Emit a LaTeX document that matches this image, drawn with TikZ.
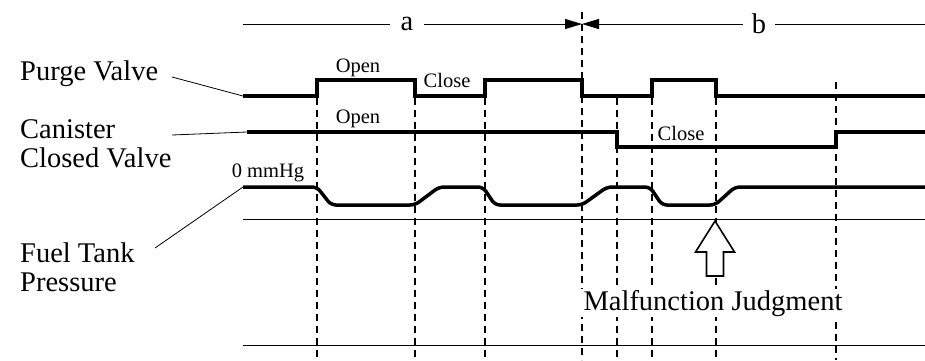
\documentclass[tikz,border=0pt]{standalone}
\usepackage{fontspec}
\setmainfont{Liberation Serif}
\usetikzlibrary{arrows.meta, positioning}

\begin{document}
\begin{tikzpicture}[x=1pt, y=-1pt,
    every node/.style={inner sep=0pt},
    big/.style={font=\fontsize{28.5}{29}\selectfont},
    small/.style={font=\fontsize{20.5}{22}\selectfont},
    sig/.style={line width=3.5pt},
    rule/.style={line width=1pt},
    tick/.style={line width=1.2pt, dash pattern=on 7pt off 5pt},
    dimarr/.style={line width=1pt, -{Triangle[length=17pt, width=10pt]}},
    leader/.style={line width=0.8pt},
    blockarr/.style={line width=1.6pt, fill=white, line join=miter}
]
\useasboundingbox (0,0) rectangle (925,360);

% time marks
\foreach \t/\top in {317/98, 415/98, 485/98, 582/12, 617/98, 652/98, 716/98, 836/82}
    \draw[tick] (\t,\top) -- (\t,360);

% periods a and b
\coordinate (aL)  at (243,24);
\coordinate (mid) at (582,24);
\coordinate (bR)  at (925,24);
\node[big, inner xsep=10pt, inner ysep=2pt] (a) at (407,24) {a};
\node[big, inner xsep=9pt, inner ysep=2pt]  (b) at (759,24) {b};
\draw[rule]   (aL) -- (a.west);
\draw[dimarr] (a.east) -- (mid);
\draw[dimarr] (b.west) -- (mid);
\draw[rule]   (b.east) -- (bR);

% signal names
\node[big, anchor=base west] (pv) at (20,80) {Purge Valve};
\node[big, anchor=base west, align=left] (cv) at (20,167) {Canister\\Closed Valve};
\node[big, anchor=base west, align=left] (ftp) at (20,291) {Fuel Tank\\Pressure};

\coordinate (pvL) at (172,77);
\coordinate (cvL) at (172,135);
\coordinate (ftL) at (155,248);
\coordinate (pv0) at (243,96);
\coordinate (cv0) at (247,132);
\coordinate (ft0) at (243,187);
\draw[leader] (pvL) -- (pv0);
\draw[leader] (cvL) -- (cv0);
\draw[leader] (ftL) -- (ft0);

% waveforms
\draw[sig] (pv0) -- (317,96) -- (317,80) -- (415,80) -- (415,96) -- (485,96)
    -- (485,80) -- (582,80) -- (582,96) -- (652,96) -- (652,80) -- (716,80)
    -- (716,96) -- (925,96);
\draw[sig] (cv0) -- (617,132) -- (617,147) -- (836,147) -- (836,132) -- (925,132);
\draw[sig, rounded corners=5pt] (ft0) -- (317,187) -- (331,205) -- (415,205)
    -- (439,187) -- (483,187) -- (495,205) -- (582,205) -- (607,187)
    -- (650,187) -- (662,205) -- (715,205) -- (735,187) -- (925,187);

% reference lines
\coordinate (g1L) at (243,219);
\coordinate (g1R) at (925,219);
\coordinate (g2L) at (243,345);
\coordinate (g2R) at (925,345);
\draw[rule] (g1L) -- (g1R);
\draw[rule] (g2L) -- (g2R);

% state labels
\node[small, anchor=base] (po)   at (358,72)  {Open};
\node[small, anchor=base] (pc)   at (447,87)  {Close};
\node[small, anchor=base] (co)   at (358,123) {Open};
\node[small, anchor=base] (cc)   at (681,140) {Close};
\node[small, anchor=base] (zero) at (268,177) {0 mmHg};

% judgment
\coordinate (jt) at (715,221);
\draw[blockarr] (jt) -- ++(19.5,31) -- ++(-11,0) -- ++(0,24) -- ++(-17,0)
    -- ++(0,-24) -- ++(-11,0) -- cycle;
\node[big, fill=white, inner xsep=6pt, inner ysep=1pt, anchor=base] (mj)
    at (713,310) {Malfunction Judgment};
\end{tikzpicture}
\end{document}
